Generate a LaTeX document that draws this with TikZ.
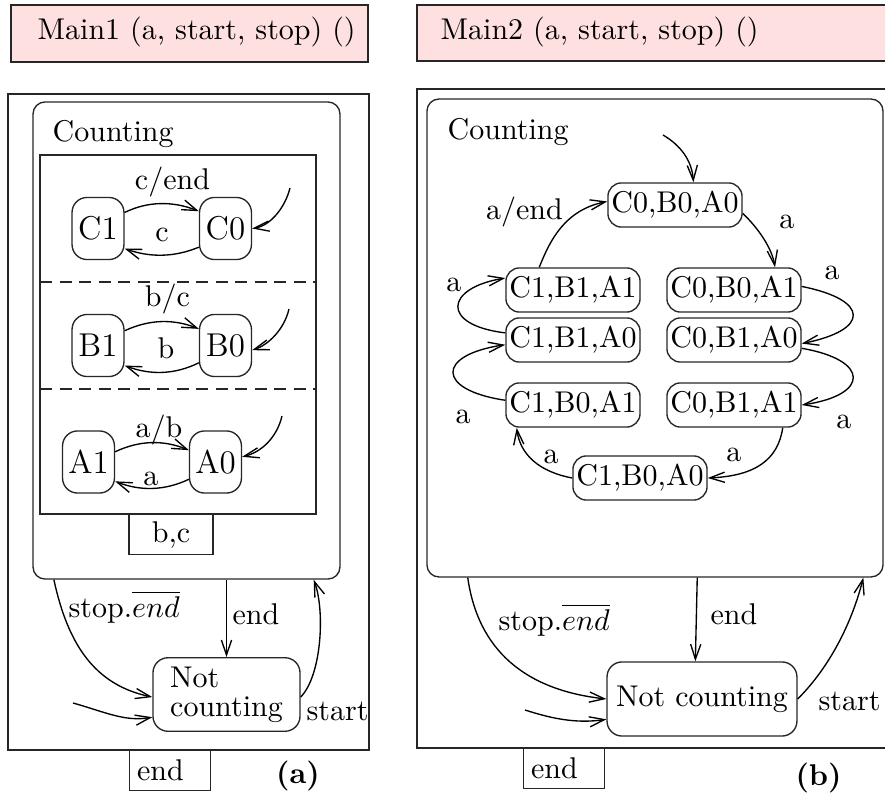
\documentclass[tikz,border=0pt]{standalone}
\usetikzlibrary{arrows.meta}
\definecolor{colTitle}{RGB}{255,224,224}
\colorlet{ecol}{black!85}
\tikzstyle{state}=[draw=ecol, rounded corners=5pt, inner sep=0pt, minimum width=17.3pt, minimum height=20.7pt, font=\fontsize{11}{13}\selectfont]
\tikzstyle{pstate}=[draw=ecol, rounded corners=4.5pt, inner sep=0pt, minimum width=44.7pt, minimum height=14.7pt]
\tikzstyle{superstate}=[draw=ecol, rounded corners=4pt, inner sep=0pt]
\tikzstyle{ncstate}=[draw=ecol, rounded corners=5pt, inner sep=0pt, minimum height=24.5pt]
\tikzstyle{evbox}=[draw=ecol, inner xsep=2.5pt, inner ysep=0pt, minimum height=13.3pt]
\tikzstyle{titlebox}=[draw=ecol, fill=colTitle]
\tikzstyle{lbl}=[inner sep=0pt]
\tikzstyle{edge}=[-{Straight Barb[length=5pt,width=3.4pt]}]
\begin{document}
\begin{tikzpicture}[x=0.3333pt, y=-0.3333pt, line width=0.45pt]
	\useasboundingbox (0,0) rectangle (885,794);

	%%% (a) Main1
	\draw[titlebox] (11,5) rectangle (368,62);
	\node[lbl, anchor=west] (tA) at (37,32) {Main1 (a, start, stop) ()};
	\draw[ecol] (8,94) rectangle (369,750);

	\node[superstate, minimum width=102.3pt, minimum height=159pt] (cntA) at (186.5,340.5) {};
	\node[lbl, anchor=west] (lcA) at (52,134) {Counting};
	% concurrent regions
	\draw[ecol] (40,155) rectangle (316,514);
	\draw[ecol, dash pattern=on 4pt off 2.5pt] (40,282) -- (316,282) (40,389) -- (316,389);
	\node[evbox, anchor=north, minimum width=28pt] (bc) at (171,514) {b,c};

	\node[state]      (C1) at (98,228.5)  {C1};
	\node[state]      (C0) at (225.5,228.5) {C0};
	\node[state]      (B1) at (98,345.5)  {B1};
	\node[state]      (B0) at (225.5,345.5) {B0};
	\node[state]      (A1) at (88.5,462)  {A1};
	\node[state]      (A0) at (215.5,462) {A0};
	\coordinate       (iC) at (290,188);
	\coordinate       (iB) at (289,309);
	\coordinate       (iA) at (282,416);

	% C
	\draw[edge] (C1.31) .. controls (148,201) and (173,201) .. (C0.147);
	\draw[edge] (C0.215) .. controls (174,257.5) and (150,257.5) .. (C1.-37);
	\draw[edge] (iC) .. controls (285,208) and (270,226) .. (C0.east);
	\node[lbl] at (172.5,182) {c/end};
	\node[lbl] at (162,235) {c};
	% B
	\draw[edge] (B1.29) .. controls (150,319) and (174,319) .. (B0.148);
	\draw[edge] (B0.213) .. controls (174,375) and (150,375) .. (B1.-37);
	\draw[edge] (iB) .. controls (284,330) and (268,345) .. (B0.-10);
	\node[lbl] at (167.5,299) {b/c};
	\node[lbl] at (166,348) {b};
	% A
	\draw[edge] (A1.21) .. controls (140,440) and (164,440) .. (A0.156);
	\draw[edge] (A0.213) .. controls (164,491) and (140,491) .. (A1.-36);
	\draw[edge] (iA) .. controls (277,437) and (262,452) .. (A0.11);
	\node[lbl] at (159,430) {a/b};
	\node[lbl] at (151,479) {a};

	%%% Not counting
	\node[ncstate, minimum width=49pt, align=left] (ncA) at (226.5,694.5) {Not\\[-2.3pt]counting};
	\coordinate (iN) at (73,703);
	\draw[edge] (ncA.north |- cntA.south) -- (ncA.north);
	\draw[edge] (cntA.241.7) .. controls (68,645) and (95,685) .. (ncA.182);
	\draw[edge] (ncA.-2) .. controls (322,675) and (325,610) .. (cntA.-62);
	\draw[edge] (iN) .. controls (105,712) and (125,722) .. (ncA.197);
	\node[lbl, anchor=west] at (232,614) {end};
	\node[lbl, anchor=west] at (68,607) {stop.$\overline{end}$};
	\node[lbl, anchor=west] at (306,711) {start};

	\node[evbox, anchor=north west, text width=22pt, align=left] (eA) at (129,750) {end};
	\node[lbl] at (298,776) {\textbf{(a)}};

	%%% (b) Main2
	\draw[titlebox] (417,5) rectangle (895,61);
	\node[lbl, anchor=west] (tB) at (440,32) {Main2 (a, start, stop) ()};
	\draw[ecol] (417,89) rectangle (895,748);

	\node[superstate, minimum width=152pt, minimum height=159.3pt] (cntB) at (655,338) {};
	\node[lbl, anchor=west] (lcB) at (447,132) {Counting};

	\node[pstate] (s000) at (675,205) {C0,B0,A0};
	\node[pstate] (s111) at (573,290) {C1,B1,A1};
	\node[pstate] (s001) at (734,290) {C0,B0,A1};
	\node[pstate] (s110) at (573,340) {C1,B1,A0};
	\node[pstate] (s010) at (734,340) {C0,B1,A0};
	\node[pstate] (s101) at (573,405) {C1,B0,A1};
	\node[pstate] (s011) at (734,405) {C0,B1,A1};
	\node[pstate] (s100) at (640,478) {C1,B0,A0};
	\coordinate   (i000) at (663,135);

	% cycle
	\draw[edge] (i000) .. controls (680,145) and (692,160) .. (s000.51);
	\draw[edge] (s000.-7) .. controls (758,228) and (772,248) .. (s001.29);
	\draw[edge] (s001.3) .. controls (870,300) and (870,330) .. (s010.-3);
	\draw[edge] (s010.-7) .. controls (870,360) and (870,395) .. (s011.east);
	\draw[edge] (s011.-25) .. controls (778,460) and (755,476) .. (s100.east);
	\draw[edge] (s100.west) .. controls (540,472) and (520,455) .. (s101.202);
	\draw[edge] (s101.176) .. controls (436,390) and (436,355) .. (s110.184);
	\draw[edge] (s110.174) .. controls (440,325) and (445,288) .. (s111.170);
	\draw[edge] (s111.146) .. controls (550,240) and (565,210) .. (s000.177);
	% labels
	\node[lbl] at (524.5,212) {a/end};
	\node[lbl] at (787,222) {a};
	\node[lbl] at (832,273) {a};
	\node[lbl] at (844,422) {a};
	\node[lbl] at (734,455) {a};
	\node[lbl] at (551,457) {a};
	\node[lbl] at (463,417) {a};
	\node[lbl] at (454,285) {a};

	%%% Not counting
	\node[ncstate, minimum width=63.3pt, minimum height=24.7pt] (ncB) at (702,699) {Not counting};
	\coordinate (jN) at (525,710);
	\draw[edge] (cntB.-80.5) -- (ncB.100.7);
	\draw[edge] (cntB.232) .. controls (478,650) and (525,690) .. (ncB.west);
	\draw[edge] (ncB.east) .. controls (825,672) and (850,630) .. (cntB.-49.6);
	\draw[edge] (jN) .. controls (550,718) and (575,724) .. (ncB.192);
	\node[lbl, anchor=west] at (710,614) {end};
	\node[lbl, anchor=west] at (498,620) {stop.$\overline{end}$};
	\node[lbl, anchor=west] at (818,701) {start};

	\node[evbox, anchor=north west, text width=22pt, align=left] (eB) at (523,748) {end};
	\node[lbl] at (818.5,778) {\textbf{(b)}};
\end{tikzpicture}
\end{document}
